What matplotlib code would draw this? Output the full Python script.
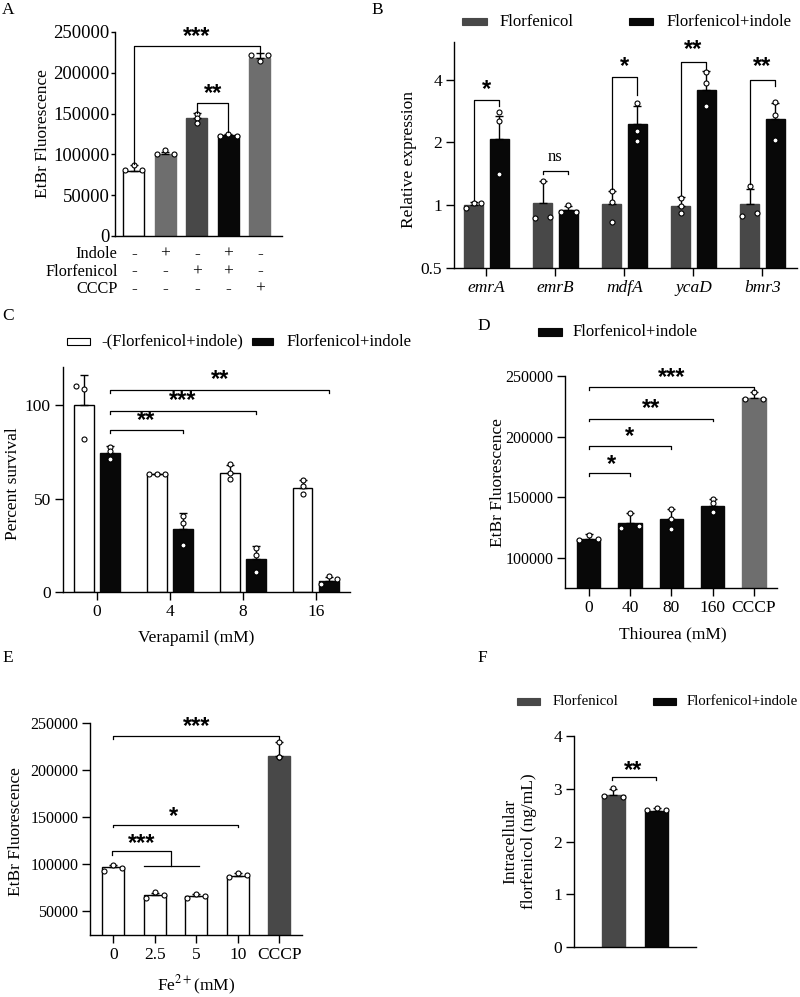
import matplotlib
matplotlib.use('Agg')
import matplotlib.pyplot as plt
from matplotlib.patches import Rectangle
from matplotlib.transforms import blended_transform_factory
from matplotlib.ticker import NullLocator
import numpy as np

plt.rcParams['font.family'] = ['Liberation Serif', 'DejaVu Serif']
plt.rcParams['mathtext.fontset'] = 'stix'
plt.rcParams['axes.linewidth'] = 1.0

# ---------------- DATA ----------------
# Panel A
a_rows = ['Indole', 'Florfenicol', 'CCCP']
a_signs = [['-', '+', '-', '+', '-'],
           ['-', '-', '+', '+', '-'],
           ['-', '-', '-', '-', '+']]
a_means = [80000, 101000, 144000, 124000, 218500]
a_sd = [6500, 2500, 6500, 1500, 6000]
a_points = [[81000, 86500, 81000], [100500, 105000, 100500],
            [150000, 144000, 138500], [122500, 125500, 122500],
            [222000, 214000, 222000]]
a_yticks = [0, 50000, 100000, 150000, 200000, 250000]

# Panel B
b_genes = ['emrA', 'emrB', 'mdfA', 'ycaD', 'bmr3']
b_series = ['Florfenicol', 'Florfenicol+indole']
b_flor_mean = [1.0, 1.02, 1.01, 0.99, 1.01]
b_flor_sd = [0.04, 0.28, 0.165, 0.11, 0.18]
b_ind_mean = [2.07, 0.943, 2.46, 3.58, 2.58]
b_ind_sd = [0.61, 0.05, 0.54, 0.82, 0.52]
b_flor_pts = [[0.97, 1.02, 1.02], [1.30, 0.867, 0.88], [1.17, 1.04, 0.83],
              [1.08, 0.99, 0.915], [1.23, 0.89, 0.915]]
b_ind_pts = [[2.80, 2.54, 1.41], [1.0, 0.93, 0.93], [3.1, 2.27, 2.03],
             [4.35, 3.86, 2.98], [3.12, 2.7, 2.05]]
b_yticks = [0.5, 1, 2, 4]
b_ytick_labels = ['0.5', '1', '2', '4']

# Panel C
c_doses = ['0', '4', '8', '16']
c_series = ['-(Florfenicol+indole)', 'Florfenicol+indole']
c_ctrl_mean = [100, 63.1, 63.8, 55.8]
c_ctrl_sd = [15.9, 0.3, 4.4, 4.2]
c_trt_mean = [74.1, 34.0, 18.0, 6.2]
c_trt_sd = [3.9, 8.1, 6.7, 1.8]
c_ctrl_pts = [[110.2, 108.3, 82.0], [63.1, 63.1, 63.1], [68.3, 63.5, 60.6], [59.9, 56.7, 52.3]]
c_trt_pts = [[77.7, 75.5, 71.1], [40.7, 37.1, 25.2], [23.5, 19.8, 11.0], [4.3, 8.7, 6.9]]
c_yticks = [0, 50, 100]

# Panel D
d_labels = ['0', '40', '80', '160', 'CCCP']
d_means = [116000, 129200, 132000, 142900, 231700]
d_sd = [3400, 8200, 8700, 6000, 5400]
d_pts = [[114500, 118900, 116000], [124300, 137200, 126500], [140200, 132000, 124000],
         [148900, 145300, 137700], [230900, 236600, 230900]]
d_yticks = [100000, 150000, 200000, 250000]

# Panel E
e_labels = ['0', '2.5', '5', '10', 'CCCP']
e_means = [96800, 67000, 66000, 88000, 215200]
e_sd = [2500, 2500, 2400, 2800, 14900]
e_pts = [[93300, 98900, 96100], [64200, 70200, 67000], [64200, 68100, 66700],
         [86900, 90400, 88700], [230100, 213800, 213800]]
e_yticks = [50000, 100000, 150000, 200000, 250000]

# Panel F
f_groups = ['Florfenicol', 'Florfenicol+indole']
f_means = [2.88, 2.58]
f_sd = [0.12, 0.05]
f_pts = [[3.02, 2.86, 2.85], [2.63, 2.59, 2.59]]
f_yticks = [0, 1, 2, 3, 4]

# ---------------- STYLE ----------------
W, H = 800, 997
FS = 12.5
GRAY_L = '#6e6e6e'
GRAY_D = '#484848'
BLACK = '#080808'
STAR_FONT = ['Liberation Sans', 'DejaVu Sans']

a_jit = [[-0.4, 0, 0.4], [-0.4, 0, 0.4], [0, 0, 0], [-0.4, 0, 0.4], [-0.4, 0, 0.4]]
b_flor_jit = [[-0.4, 0, 0.4], [0, -0.4, 0.4], [0, 0, 0], [0, 0, 0], [0, -0.4, 0.4]]
b_ind_jit = [[0, 0, 0], [0, -0.4, 0.4], [0, 0, 0], [0, 0, 0], [0, 0, 0]]
c_ctrl_jit = [[-0.4, 0, 0], [-0.4, 0, 0.4], [0, 0, 0], [0, 0, 0]]
c_trt_jit = [[0, 0, 0], [0, 0, 0], [0, 0, 0], [-0.4, 0, 0.4]]
d_jit = [[-0.4, 0, 0.4], [-0.4, 0, 0.4], [0, 0, 0], [0, 0, 0], [-0.4, 0, 0.4]]
e_jit = [[-0.4, 0, 0.4], [-0.4, 0, 0.4], [-0.4, 0, 0.4], [-0.4, 0, 0.4], [0, 0, 0]]
f_jit = [[0, -0.4, 0.4], [0, -0.4, 0.4]]

fig = plt.figure(figsize=(W / 100, H / 100), dpi=100)


def add_ax(x0, y0, x1, y1, tfs=FS):
    ax = fig.add_axes([x0 / W, 1 - y1 / H, (x1 - x0) / W, (y1 - y0) / H])
    ax.spines['top'].set_visible(False)
    ax.spines['right'].set_visible(False)
    ax.tick_params(labelsize=tfs, width=1.0, length=5.5, pad=3)
    ax.patch.set_alpha(0)
    return ax


def draw_bars(ax, xs, means, sds, pts, jit, width, colors, edges):
    ax.bar(xs, means, width, color=colors, edgecolor=edges, linewidth=1.0, zorder=2)
    ax.errorbar(xs, means, yerr=[np.zeros(len(sds)), sds], fmt='none', ecolor='black',
                elinewidth=1.0, capsize=3.2, capthick=1.0, zorder=3)
    for x, p, j in zip(xs, pts, jit):
        ax.plot(x + np.array(j) * width, p, 'o', ms=3.6, mfc='white', mec='black',
                mew=0.8, zorder=4, clip_on=False)


def bracket(ax, x1, x2, y, yl, yr):
    ax.plot([x1, x1, x2, x2], [yl, y, y, yr], color='black', lw=0.9, zorder=5, clip_on=False)


def stars(ax, x, y, s, fs=17):
    ax.text(x, y, s, ha='center', va='center', fontsize=fs, family=STAR_FONT,
            fontweight='bold', zorder=6)


def legend_item(x, y, w, h, fc, ec, label, tx, fs=12):
    fig.patches.append(Rectangle((x / W, 1 - (y + h / 2) / H), w / W, h / H,
                                 transform=fig.transFigure, facecolor=fc, edgecolor=ec, lw=0.8))
    fig.text(tx / W, 1 - y / H, label, ha='left', va='center', fontsize=fs)


def panel_label(x, y, s):
    fig.text(x / W, 1 - y / H, s, ha='center', va='center', fontsize=12.5)


# ---------------- PANEL A ----------------
axA = add_ax(115, 32, 282, 236, tfs=13.4)
xa = np.arange(len(a_means))
draw_bars(axA, xa, a_means, a_sd, a_points, a_jit, 0.67,
          ['white', GRAY_L, GRAY_D, BLACK, GRAY_L],
          ['black', GRAY_L, GRAY_D, BLACK, GRAY_L])
axA.set_xlim(-0.6, 4.7)
axA.set_ylim(0, 250000)
axA.set_yticks(a_yticks)
axA.set_yticklabels([str(t) for t in a_yticks])
axA.set_xticks([])
axA.tick_params(axis='y', length=3, pad=1)
axA.set_ylabel('EtBr Fluorescence', fontsize=FS)
axA.yaxis.set_label_coords(-0.383, 0.5)
bracket(axA, 0, 4, 232800, 88600, 223500)
stars(axA, 2, 244700, '***')
bracket(axA, 2, 3, 163000, 151000, 127000)
stars(axA, 2.5, 175200, '**')
trA = blended_transform_factory(axA.transData, fig.transFigure)
for r, (lab, row) in enumerate(zip(a_rows, a_signs)):
    yy = 1 - (254 + 17.5 * r) / H
    fig.text(117.7 / W, yy, lab, ha='right', va='center', fontsize=11.7)
    for i, s in enumerate(row):
        axA.text(i, yy, s, ha='center', va='center', fontsize=FS, transform=trA)

# ---------------- PANEL B ----------------
axB = add_ax(454, 42, 797, 268)
xb = np.arange(len(b_genes))
off_b, wb = 0.185, 0.27
draw_bars(axB, xb - off_b, b_flor_mean, b_flor_sd, b_flor_pts, b_flor_jit, wb, GRAY_D, GRAY_D)
draw_bars(axB, xb + off_b, b_ind_mean, b_ind_sd, b_ind_pts, b_ind_jit, wb, BLACK, BLACK)
axB.set_yscale('log', base=2)
axB.set_ylim(0.5, 6.05)
axB.set_yticks(b_yticks)
axB.set_yticklabels(b_ytick_labels)
axB.yaxis.set_minor_locator(NullLocator())
axB.set_xlim(-0.47, 4.5)
axB.set_xticks(xb)
axB.set_xticklabels(b_genes, style='italic')
axB.set_ylabel('Relative expression', fontsize=FS)
axB.yaxis.set_label_coords(-0.108, 0.48)
bracket(axB, -off_b, off_b, 3.18, 1.06, 2.99)
stars(axB, 0, 3.6, '*')
bracket(axB, 1 - off_b, 1 + off_b, 1.45, 1.41, 1.41)
axB.text(1, 1.71, 'ns', ha='center', va='center', fontsize=12)
bracket(axB, 2 - off_b, 2 + off_b, 4.12, 1.2, 3.37)
stars(axB, 2, 4.61, '*')
bracket(axB, 3 - off_b, 3 + off_b, 4.87, 1.12, 4.51)
stars(axB, 3, 5.54, '**')
bracket(axB, 4 - off_b, 4 + off_b, 4.0, 1.27, 3.71)
stars(axB, 4, 4.6, '**')
legend_item(462, 22, 25, 7, GRAY_D, GRAY_D, b_series[0], 500)
legend_item(629, 22, 24, 7, BLACK, BLACK, b_series[1], 667)

# ---------------- PANEL C ----------------
axC = add_ax(62.7, 366.7, 350, 592.3)
xc = np.arange(len(c_doses))
off_c, wc = 0.18, 0.27
draw_bars(axC, xc - off_c, c_ctrl_mean, c_ctrl_sd, c_ctrl_pts, c_ctrl_jit, wc, 'white', 'black')
draw_bars(axC, xc + off_c, c_trt_mean, c_trt_sd, c_trt_pts, c_trt_jit, wc, BLACK, BLACK)
axC.set_xlim(-0.47, 3.47)
axC.set_ylim(0, 120.4)
axC.set_yticks(c_yticks)
axC.set_yticklabels([str(t) for t in c_yticks])
axC.set_xticks(xc)
axC.set_xticklabels(c_doses)
axC.set_ylabel('Percent survival', fontsize=FS)
axC.yaxis.set_label_coords(-0.146, 0.48)
axC.set_xlabel('Verapamil (mM)', fontsize=FS)
axC.xaxis.set_label_coords(0.464, -0.165)
bracket(axC, off_c, 1 + off_c, 86.6, 85.0, 85.0)
stars(axC, 0.675, 91.8, '**')
bracket(axC, off_c, 2 + off_c, 96.9, 95.3, 95.3)
stars(axC, 1.18, 102.4, '***')
bracket(axC, off_c, 3 + off_c, 107.9, 106.3, 106.3)
stars(axC, 1.69, 113.6, '**')
legend_item(66.7, 341.7, 23.3, 7, 'white', 'black', c_series[0], 101.7)
legend_item(251.7, 341.7, 21.3, 7, BLACK, BLACK, c_series[1], 287)

# ---------------- PANEL D ----------------
axD = add_ax(565, 376, 776.7, 588.3, tfs=11.5)
xd = np.arange(len(d_labels))
draw_bars(axD, xd, d_means, d_sd, d_pts, d_jit, 0.565,
          [BLACK, BLACK, BLACK, BLACK, GRAY_L], [BLACK, BLACK, BLACK, BLACK, GRAY_L])
axD.set_xlim(-0.57, 4.55)
axD.set_ylim(75000, 250000)
axD.set_yticks(d_yticks)
axD.set_yticklabels([str(t) for t in d_yticks])
axD.set_xticks(xd)
axD.set_xticklabels(d_labels, fontsize=12.5)
axD.set_ylabel('EtBr Fluorescence', fontsize=FS)
axD.yaxis.set_label_coords(-0.28, 0.5)
axD.set_xlabel('Thiourea (mM)', fontsize=FS)
axD.xaxis.set_label_coords(0.51, -0.18)
bracket(axD, 0, 1, 169700, 167500, 167500)
stars(axD, 0.56, 177400, '*')
bracket(axD, 0, 2, 192000, 189800, 189800)
stars(axD, 1.0, 200400, '*')
bracket(axD, 0, 3, 214750, 212500, 212500)
stars(axD, 1.52, 222900, '**')
bracket(axD, 0, 4, 240700, 238500, 238500)
stars(axD, 2.0, 248400, '***')
legend_item(538, 332, 24, 7, BLACK, BLACK, 'Florfenicol+indole', 573)

# ---------------- PANEL E ----------------
axE = add_ax(90, 723.3, 301.7, 935, tfs=11.5)
xe = np.arange(len(e_labels))
draw_bars(axE, xe, e_means, e_sd, e_pts, e_jit, 0.54,
          ['white', 'white', 'white', 'white', GRAY_D], ['black', 'black', 'black', 'black', GRAY_D])
axE.set_xlim(-0.56, 4.54)
axE.set_ylim(25000, 250000)
axE.set_yticks(e_yticks)
axE.set_yticklabels([str(t) for t in e_yticks])
axE.set_xticks(xe)
axE.set_xticklabels(e_labels, fontsize=12.5)
axE.set_ylabel('EtBr Fluorescence', fontsize=FS)
axE.yaxis.set_label_coords(-0.312, 0.49)
axE.set_xlabel('Fe$^{2+}$(mM)', fontsize=FS)
axE.xaxis.set_label_coords(0.5, -0.185)
bracket(axE, 0, 4, 236200, 233500, 233500)
stars(axE, 2, 246100, '***')
bracket(axE, 0, 3, 142200, 139500, 139500)
stars(axE, 1.45, 151000, '*')
bracket(axE, -0.04, 1.39, 113800, 110300, 98600)
axE.plot([0.74, 2.07], [98600, 98600], color='black', lw=0.9, zorder=5)
stars(axE, 0.68, 122700, '***')

# ---------------- PANEL F ----------------
axF = add_ax(574, 736, 696, 947.3)
xf = np.arange(len(f_groups))
draw_bars(axF, xf, f_means, f_sd, f_pts, f_jit, 0.54, [GRAY_D, BLACK], [GRAY_D, BLACK])
axF.set_xlim(-0.91, 1.91)
axF.set_ylim(0, 4)
axF.set_yticks(f_yticks)
axF.set_yticklabels([str(t) for t in f_yticks])
axF.set_xticks([])
axF.set_ylabel('Intracellular\nflorfenicol (ng/mL)', fontsize=FS, linespacing=1.15)
axF.yaxis.set_label_coords(-0.307, 0.5)
bracket(axF, -0.04, 0.98, 3.22, 3.17, 3.17)
stars(axF, 0.46, 3.35, '**')
legend_item(516.7, 701, 23.3, 7, GRAY_D, GRAY_D, f_groups[0], 552.3, fs=10.6)
legend_item(653, 701, 23, 7, BLACK, BLACK, f_groups[1], 687, fs=10.6)

# ---------------- PANEL LABELS ----------------
panel_label(8, 10, 'A')
panel_label(377, 10, 'B')
panel_label(8, 316, 'C')
panel_label(484, 326, 'D')
panel_label(8, 658, 'E')
panel_label(482, 658, 'F')

fig.savefig('out.png', dpi=100, facecolor='white')
